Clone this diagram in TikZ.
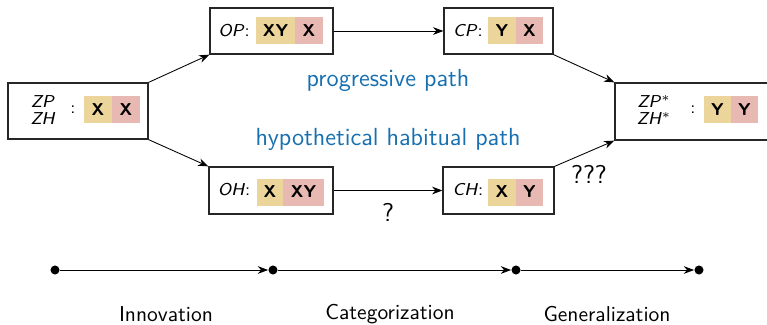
\documentclass[tikz,border=0pt]{standalone}
\usetikzlibrary{fit,arrows.meta}
\renewcommand{\familydefault}{\sfdefault}
\definecolor{chipyellow}{RGB}{236,213,155}
\definecolor{chippink}{RGB}{232,184,178}
\definecolor{pathblue}{RGB}{24,112,176}
\begin{document}
\begin{tikzpicture}[
    x=0.465pt,
    y=-0.465pt,
    >=Stealth,
    stagebox/.style={draw=black!85,line width=0.6pt,inner sep=0pt},
    chip/.style={inner sep=0pt,minimum height=27*0.465pt,
      font=\footnotesize\bfseries},
    chipy/.style={chip,fill=chipyellow,minimum width=#1*0.465pt},
    chipp/.style={chip,fill=chippink,minimum width=#1*0.465pt},
    boxlabel/.style={font=\footnotesize},
    pathlabel/.style={font=\fontsize{11.5}{13}\selectfont,text=pathblue},
    stagedot/.style={circle,fill,inner sep=0pt,minimum size=4.2pt},
    stagelabel/.style={font=\normalsize}
  ]
    \useasboundingbox (0,0) rectangle (767,324);

    % start: ZP / ZH
    \node[stagebox,fit={(8,83) (148,139)}] (zp) {};
    \node[boxlabel,align=center] at (43,110) {\textit{ZP}\\[-1.5pt]\textit{ZH}};
    \node[font=\footnotesize] at (73,110) {:};
    \node[chipy=28] at (98,109.5) {X};
    \node[chipp=28] at (126,109.5) {X};

    % progressive path
    \node[stagebox,fit={(210,8) (333,54)}] (op) {};
    \node[boxlabel] at (234,31) {\textit{OP}:};
    \node[chipy=39] at (275.5,30.5) {XY};
    \node[chipp=28] at (309,30.5) {X};

    \node[stagebox,fit={(444,8) (553,54)}] (cp) {};
    \node[boxlabel] at (468,31) {\textit{CP}:};
    \node[chipy=28] at (502,30.5) {Y};
    \node[chipp=27] at (529.5,30.5) {X};

    % habitual path
    \node[stagebox,fit={(209,167) (333,214)}] (oh) {};
    \node[boxlabel] at (234,190) {\textit{OH}:};
    \node[chipy=26] at (270,192) {X};
    \node[chipp=41] at (303.5,192) {XY};

    \node[stagebox,fit={(443,167) (554,214)}] (ch) {};
    \node[boxlabel] at (468,190) {\textit{CH}:};
    \node[chipy=28] at (502,192) {X};
    \node[chipp=27] at (529.5,192) {Y};

    % end: ZP* / ZH*
    \node[stagebox,fit={(615,83) (769,140)}] (zs) {};
    \node[boxlabel,align=center] at (654,110) {\textit{ZP}$^*$\\[-1.5pt]\textit{ZH}$^*$};
    \node[font=\footnotesize] at (693,110) {:};
    \node[chipy=27] at (717.5,109.5) {Y};
    \node[chipp=27] at (744.5,109.5) {Y};

    \draw[->] (zp.north east) -- (op.south west);
    \draw[->] (zp.south east) -- (oh.north west);
    \draw[->] (op.east) -- (cp.west);
    \draw[->] (oh.east) -- (ch.west);
    \draw[->] (cp.south east) -- (zs.north west);
    \draw[->] (ch.north east) -- (zs.south west);

    \node[pathlabel] (prog) at (388,80) {progressive path};
    \node[pathlabel] (habit) at (388,139) {hypothetical habitual path};
    \node[font=\large] (q) at (388,212) {?};
    \node[font=\large] (qqq) at (589,174) {???};

    % timeline
    \node[stagedot] (t1) at (55,270) {};
    \node[stagedot] (t2) at (273,270) {};
    \node[stagedot] (t3) at (516,270) {};
    \node[stagedot] (t4) at (699,270) {};
    \draw[->] (t1) -- (t2);
    \draw[->] (t2) -- (t3);
    \draw[->] (t3) -- (t4);

    \node[stagelabel] (inno) at (166,314) {Innovation};
    \node[stagelabel] (cate) at (390,314) {Categorization};
    \node[stagelabel] (gene) at (607,314) {Generalization};
  \end{tikzpicture}
\end{document}
